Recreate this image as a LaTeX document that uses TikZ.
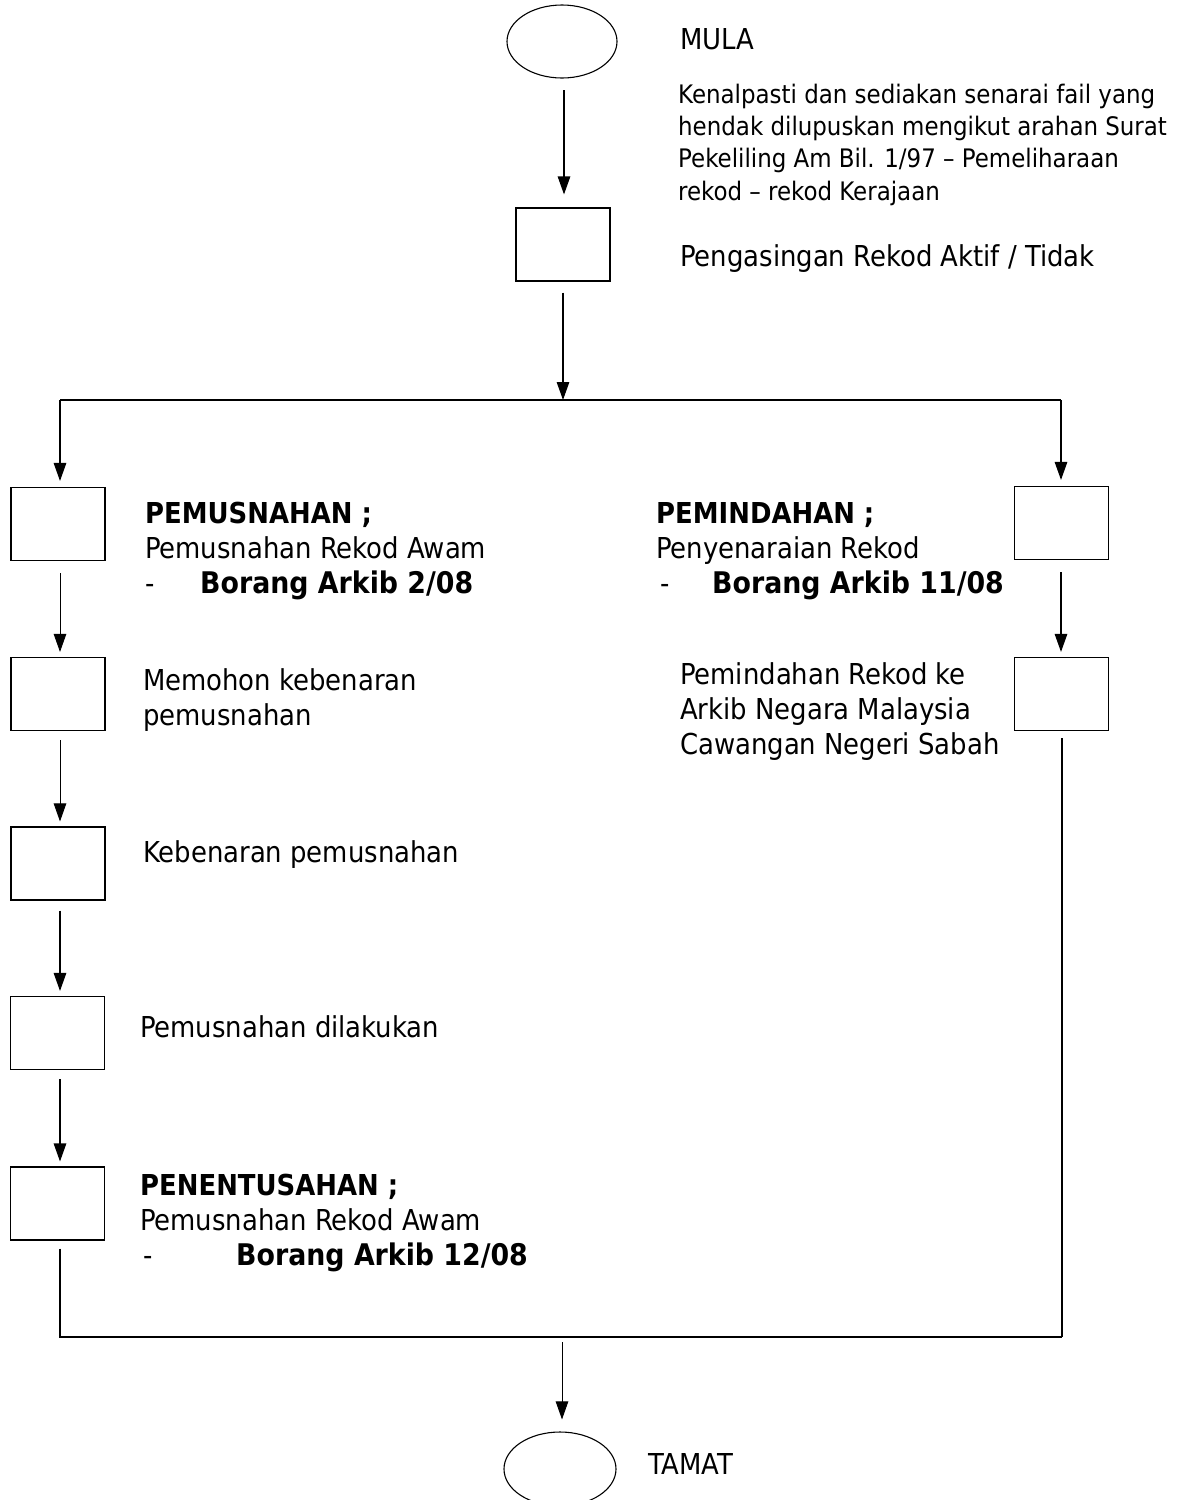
\documentclass[tikz,border=0pt]{standalone}
\usepackage{fontspec}
\setmainfont{DejaVu Sans Condensed}
\usetikzlibrary{arrows.meta,shapes.geometric}
\newcommand{\bignum}[1]{{\fontsize{29.8}{35}\selectfont\textbf{#1}}}
\begin{document}
\begin{tikzpicture}[x=1pt,y=-1pt,
  box/.style={draw, line width=1.1pt, minimum width=94pt, minimum height=73pt, inner sep=0pt},
  term/.style={draw, ellipse, line width=1.1pt, minimum width=110pt, minimum height=73pt, inner sep=0pt},
  txt/.style={anchor=base west, inner sep=0pt, align=left, font=\fontsize{28.8}{35}\selectfont},
  ptxt/.style={txt, font=\fontsize{25.5}{32.3}\selectfont},
  flow/.style={line width=1.2pt, -{Triangle[length=18pt,width=12.5pt]}},
  thin/.style={line width=0.9pt, -{Triangle[length=18pt,width=12.5pt]}},
  wire/.style={line width=1.3pt}]
\useasboundingbox (0,0) rectangle (1181,1500);
\fill[white] (0,0) rectangle (1181,1500);

% terminals and boxes
\node[term] (start) at (562,41.5) {};
\node[term, minimum width=112pt, minimum height=74pt] (end) at (560,1469) {};
\node[box] (b1) at (563,244.5) {};
\node[box] (A) at (58,524) {};
\node[box] (B) at (58,694) {};
\node[box] (C) at (58,863.5) {};
\node[box] (D) at (57.5,1033) {};
\node[box] (E) at (57.5,1203.5) {};
\node[box] (F) at (1061.5,523) {};
\node[box] (G) at (1061.5,694) {};

% coordinates
\coordinate (split) at (563,400);
\coordinate (hl) at (60,400);
\coordinate (hr) at (1061,400);
\coordinate (bl) at (60,1337);
\coordinate (br) at (1062,1337);
\coordinate (mid) at (562,1337);
\coordinate (top) at (564,78);

% connectors
\draw[flow, shorten <=12pt, shorten >=13pt] (top) -- (top |- b1.north);
\draw[flow, shorten <=11pt] (b1.south) -- (split);
\draw[wire] (hl) -- (hr);
\draw[flow, shorten >=6pt] (hl) -- (hl |- A.north);
\draw[flow, shorten >=6pt] (hr) -- (hr |- F.north);
\draw[thin, shorten <=12pt, shorten >=5pt] (hl |- A.south) -- (hl |- B.north);
\draw[thin, shorten <=9pt, shorten >=5pt] (hl |- B.south) -- (hl |- C.north);
\draw[flow, shorten <=10pt, shorten >=5pt] (hl |- C.south) -- (hl |- D.north);
\draw[flow, shorten <=9pt, shorten >=5pt] (hl |- D.south) -- (hl |- E.north);
\draw[flow, shorten <=12pt, shorten >=5pt] (hr |- F.south) -- (hr |- G.north);
\draw[wire, shorten <=8pt] (hl |- E.south) -- (bl) -- (br);
\draw[wire, shorten <=7pt] (br |- G.south) -- (br);
\draw[thin, shorten <=5pt, shorten >=12pt] (mid) -- (mid |- end.north);

% texts (anchor = baseline of last line)
\node[txt] (tmula) at (680,49) {MULA};
\node[ptxt] (tkenal) at (678,200) {Kenalpasti dan sediakan senarai fail yang\\hendak dilupuskan mengikut arahan Surat\\Pekeliling Am Bil. 1/97 -- Pemeliharaan\\rekod -- rekod Kerajaan};
\node[txt] (tasing) at (680,266) {Pengasingan Rekod Aktif / Tidak};
\node[txt] (tpemus) at (145,593) {\textbf{PEMUSNAHAN ;}\\Pemusnahan Rekod Awam\\\makebox[55pt][l]{-}\bignum{Borang Arkib 2/08}};
\node[txt] (tmohon) at (143,725) {Memohon kebenaran\\pemusnahan};
\node[txt] (tbenar) at (143,862) {Kebenaran pemusnahan};
\node[txt] (tlaku) at (140,1037) {Pemusnahan dilakukan};
\node[txt] (tsah) at (140,1265) {\textbf{PENENTUSAHAN ;}\\Pemusnahan Rekod Awam\\\hspace*{3pt}\makebox[93pt][l]{-}\bignum{Borang Arkib 12/08}};
\node[txt] (tpind) at (656,593) {\textbf{PEMINDAHAN ;}\\Penyenaraian Rekod\\\hspace*{4pt}\makebox[52pt][l]{-}\bignum{Borang Arkib 11/08}};
\node[txt] (tkirim) at (680,754) {Pemindahan Rekod ke\\Arkib Negara Malaysia\\Cawangan Negeri Sabah};
\node[txt] (ttamat) at (648,1474) {TAMAT};
\end{tikzpicture}
\end{document}
